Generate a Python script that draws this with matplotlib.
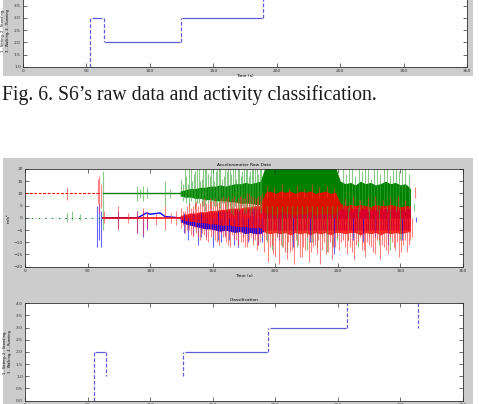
import matplotlib
matplotlib.use("Agg")
import matplotlib.pyplot as plt
from matplotlib.patches import Rectangle

W, H, DPI = 479, 404, 100

# ---------------- data ----------------
x_ticks = [0, 50, 100, 150, 200, 250, 300, 350]

# Fig. 6 (top, partly visible) activity classification
top_flat_t0 = [54.2, 64.6, 125.3]
top_flat_t1 = [62.5, 123.8, 188.4]
top_flat_lv = [3, 2, 3]
top_jump_t = [52.8, 63.5, 124.5, 189.0]
top_jump_from = [1, 3, 2, 3]
top_jump_to = [3, 2, 3, 4]
top_yticks = [1, 1.5, 2, 2.5, 3, 3.5, 4]

# Fig. 7 raw accelerometer data: quiet-part baselines (polylines)
red_base1_t = [0, 60];   red_base1_v = [10, 10]
red_base2_t = [62, 124]; red_base2_v = [0, 0]
green_base1_t = [0, 60]; green_base1_v = [0, 0]
green_base2_t = [62, 124]; green_base2_v = [10, 10]
blue_base1_t = [0, 60];  blue_base1_v = [0, 0]
blue_base2_t = [62, 90, 97, 100, 108, 112, 124]
blue_base2_v = [0, 0, 2, 1.5, 2, 0.5, 0]

# dense part: core envelopes
core_t = [124, 128, 132, 136, 140, 144, 148, 152, 156, 160, 164, 168, 172, 176,
          180, 184, 188, 192, 196, 200, 204, 208, 212, 216, 220, 224, 228, 232,
          236, 240, 244, 248, 252, 256, 260, 264, 268, 272, 276, 280, 284, 288,
          292, 296, 300, 304, 308]
green_core_lo = [9, 8.5, 8.5, 8, 8, 7.5, 7.5, 7, 7, 7, 6.5, 6.5, 6, 6, 6, 5.5, 5.5,
                 1.5, 2, 1, 2.5, 1.5, 2, 1, 2, 1.5, 2.5, 1, 2, 1.5, 2, 1.5,
                 3.5, 4, 3, 4.5, 3.5, 4, 3, 4, 3.5, 4.5, 3.5, 4, 3, 4, 4]
green_core_hi = [11, 11.5, 12, 12, 12.5, 12.5, 13, 13, 13.5, 13, 13.5, 14, 14,
                 14.5, 14, 14.5, 15, 21, 21, 21, 21, 21, 21, 21, 21, 21, 21, 21,
                 21, 21, 21, 21, 15, 14, 14.5, 13.5, 15, 14, 14.5, 13.5, 14, 15,
                 14, 14.5, 13.5, 14, 12]
red_core_lo = [-0.5, -1, -1.5, -1.5, -2, -2, -2.5, -2.5, -3, -3, -3, -3.5, -3.5,
               -3.5, -4, -4, -4, -6, -6.5, -6, -6.5, -6, -7, -6, -6.5, -6, -7,
               -6, -6.5, -6, -7, -6, -6, -6.5, -6, -6, -7, -6, -6.5, -6, -7, -6,
               -6.5, -6, -6.5, -6, -5.5]
red_core_hi = [1, 1.5, 2, 2, 2.5, 2.5, 3, 3, 3.5, 3.5, 4, 4, 4, 4.5, 4.5, 5, 5,
               10.5, 11, 10, 11, 10.5, 11, 10, 11, 10.5, 11, 10, 10.5, 11, 10,
               10.5, 6, 5, 5.5, 5, 5.5, 5, 4.5, 5.5, 5, 5, 5.5, 5, 4.5, 5, 5]
blue_core_lo = [-1.5, -2.5, -3, -3.5, -4, -4.5, -4.5, -5, -5.5, -5, -5.5, -6,
                -5.5, -6.5, -6, -6.5, -6.5, -5, -5, -5, -5, -5, -5, -5, -5, -5,
                -5, -5, -5, -5, -5, -5, -5, -5, -5, -5, -5, -5, -5, -5, -5, -5,
                -5, -5, -5, -5, -5]
blue_core_hi = [0.5, 1, 1.5, 1.5, 2, 2, 2.5, 2.5, 3, 3, 3, 3.5, 3.5, 3.5, 4, 4,
                4, 5, 5, 5, 5, 5, 5, 5, 5, 5, 5, 5, 5, 5, 5, 5, 4, 4, 4, 4, 4, 4,
                4, 4, 4, 4, 4, 4, 4, 4, 4]

# spikes (time, low, high)
green_spk_t = [33.3, 37.3, 44, 62.6, 89.2, 92, 94.6, 97.2, 111.9, 116,
               125, 127.5, 130, 132.5, 135, 137.5, 140, 142.5, 145, 147.5, 150,
               152.5, 155, 157.5, 160, 162.5, 165, 167.5, 170, 172.5, 175, 177.5,
               180, 182.5, 185, 187.5,
               126.2, 128.8, 131.2, 133.8, 136.2, 138.8, 141.2, 143.8, 146.2,
               148.8, 151.2, 153.8, 156.2, 158.8, 161.2, 163.8, 166.2, 168.8,
               171.2, 173.8, 176.2, 178.8, 181.2, 183.8, 186.2, 188.8,
               193, 197, 201, 205, 209, 213, 217, 221, 225, 229, 233, 237, 241,
               245, 249,
               254, 256.5, 259, 261.5, 264, 266.5, 269, 271.5, 274, 276.5, 279,
               281.5, 284, 286.5, 289, 291.5, 294, 296.5, 299, 301.5, 304, 306.5,
               258, 266, 275, 283, 292, 300, 311]
green_spk_lo = [-1.5, -1, -1, -5, 7, 8, 7, 8, 5, 8,
                9, 8, 9, 7, 8, 6, 8, 5, 7, 4, 6, 5, 3, 6, 4, 5, 2, 5, 3, 4, 2, 5,
                1, 4, 3, 2,
                7, 6, 5, 8, 4, 6, 5, 3, 6, 4, 5, 2, 4, 6, 3, 5, 1, 4, 3, 5, 2, 4,
                3, 1, 4, 2,
                -10, -13, -8, -12, -14, -9, -12, -7, -13, -10, -12, -8, -14, -11, -9,
                4, 5, 3, 4, 5, 3, 4, 5, 3, 4, 5, 3, 4, 5, 3, 4, 5, 3, 4, 5, 3, 4,
                -9, -12, -8, -11, -13, -9, 3]
green_spk_hi = [2, 2.7, 1.5, 19, 13, 12, 13, 12.5, 15, 12,
                16, 20, 14, 20, 18, 20, 15, 20, 20, 17, 20, 19, 20, 16, 20, 20,
                18, 20, 20, 17, 20, 20, 19, 20, 20, 20,
                14, 17, 20, 15, 19, 20, 16, 20, 18, 20, 15, 20, 20, 17, 19, 20,
                20, 16, 20, 19, 20, 17, 20, 20, 18, 20,
                5, 5, 5, 5, 5, 5, 5, 5, 5, 5, 5, 5, 5, 5, 5,
                20, 18, 20, 20, 17, 20, 19, 20, 20, 16, 20, 20, 18, 20, 20, 17,
                20, 20, 19, 20, 20, 18,
                4, 4, 4, 4, 4, 4, 6]

red_spk_t = [33.3, 58, 59.5, 61, 63, 74.6, 82, 89.2, 94.6, 97.2, 105, 111.9,
             117, 121,
             125, 128, 131, 134, 137, 140, 143, 146, 149, 152, 155, 158, 161,
             164, 167, 170, 173, 176, 179, 182, 185, 188,
             126.5, 129.5, 132.5, 135.5, 138.5, 141.5, 144.5, 147.5, 150.5,
             153.5, 156.5, 159.5, 162.5, 165.5, 168.5, 171.5, 174.5, 177.5,
             180.5, 183.5, 186.5, 189.5,
             191, 194, 197, 200, 203, 206, 209, 212, 215, 218, 221, 224, 227,
             230, 233, 236, 239, 242, 245, 248, 251, 254, 257, 260, 263, 266,
             269, 272, 275, 278, 281, 284, 287, 290, 293, 296, 299, 302, 305,
             308,
             192.5, 195.5, 198.5, 201.5, 204.5, 207.5, 210.5, 213.5, 216.5,
             219.5, 222.5, 225.5, 228.5, 231.5, 234.5, 237.5, 240.5, 243.5,
             246.5, 249.5, 252.5, 255.5, 258.5, 261.5, 264.5, 267.5, 270.5,
             273.5, 276.5, 279.5, 282.5, 285.5, 288.5, 291.5, 294.5, 297.5,
             300.5, 303.5, 306.5, 309.5,
             193, 199, 205, 211, 217, 223, 229, 235, 241, 247,
             256, 262, 268, 274, 280, 286, 292, 298, 304, 312]
red_spk_lo = [7.5, 6, 2, 4, -2, -5, -2, -6, -7, -4, -3, -5, -2, -3,
              -4, -6, -5, -8, -6, -9, -7, -10, -8, -9, -11, -8, -10, -12, -9,
              -11, -10, -12, -9, -11, -13, -10,
              -3, -5, -7, -4, -8, -6, -9, -5, -7, -10, -6, -8, -11, -7, -9, -6,
              -10, -12, -8, -9, -11, -7,
              -14, -18, -11, -16, -19, -12, -17, -14, -19, -11, -16, -13, -18,
              -12, -15, -19, -10, -14, -17, -12, -13, -9, -15, -12, -17, -10,
              -13, -16, -11, -14, -9, -17, -12, -15, -10, -13, -16, -11, -14,
              -9,
              -9, -12, -15, -8, -11, -14, -10, -13, -9, -16, -12, -8, -14, -11,
              -9, -13, -15, -10, -12, -8, -10, -12, -9, -14, -11, -8, -13, -10,
              -12, -15, -9, -11, -13, -8, -12, -10, -14, -9, -11, -8,
              8, 8, 8, 8, 8, 8, 8, 8, 8, 8,
              3, 3, 3, 3, 3, 3, 3, 3, 3, 8]
red_spk_hi = [12.5, 16, 17, 14, 3, 5, 2, 3, 4, 3, 2, 5, 2, 3,
              4, 3, 6, 5, 7, 6, 8, 6, 7, 8, 7, 9, 8, 7, 9, 8, 9, 8, 10, 9, 8, 9,
              3, 5, 4, 6, 5, 7, 6, 8, 7, 6, 8, 7, 9, 8, 7, 9, 8, 10, 9, 8, 9, 10,
              0, 0, 0, 0, 0, 0, 0, 0, 0, 0, 0, 0, 0, 0, 0, 0, 0, 0, 0, 0, 0, 0,
              0, 0, 0, 0, 0, 0, 0, 0, 0, 0, 0, 0, 0, 0, 0, 0, 0, 0,
              0, 0, 0, 0, 0, 0, 0, 0, 0, 0, 0, 0, 0, 0, 0, 0, 0, 0, 0, 0, 0, 0,
              0, 0, 0, 0, 0, 0, 0, 0, 0, 0, 0, 0, 0, 0, 0, 0, 0, 0,
              13, 12.5, 14, 12, 13.5, 12, 14, 12.5, 13, 12,
              8, 9, 7.5, 8.5, 9, 7.5, 8, 9, 7.5, 12.5]

blue_spk_t = [57.3, 59, 61, 74.6, 89.2, 94.6, 97.2,
              127, 130, 134, 138, 141, 145, 150, 154, 157, 160, 163, 167, 170,
              174, 178, 182, 186, 189,
              203, 214, 228, 247, 262, 270, 280, 290, 301, 312.5]
blue_spk_lo = [-12, -9, -12, -4, -6, -8, -5,
               -6, -9, -7, -11, -8, -8, -12, -9, -10, -7, -9, -11, -12, -8,
               -10, -9, -11, -10,
               -9, -12, -10, -15, -9, -10, -8, -11, -9, -1.5]
blue_spk_hi = [5, 6, 3, 3, 3, 3, 2,
               2, 0, 3, 0, 2, 0, 0, 3, 0, 2, 0, 0, 3, 0, 0, 4, 0, 0,
               0, 0, 0, 0, 0, 0, 0, 0, 0, 0.5]
raw_yticks = [-20, -15, -10, -5, 0, 5, 10, 15, 20]

# Fig. 7 classification steps
cls_flat_t0 = [56, 128, 195.5]
cls_flat_t1 = [64, 193.4, 256.3]
cls_flat_lv = [2, 2, 3]
cls_jump_t = [55, 64.5, 126.5, 194.5, 257.5, 314]
cls_jump_from = [0, 2, 1, 2, 3, 4]
cls_jump_to = [2, 1, 2, 3, 4, 3]
cls_yticks = [0, 0.5, 1, 1.5, 2, 2.5, 3, 3.5, 4]

caption = "Fig. 6. S6\u2019s raw data and activity classification."

# ---------------- drawing ----------------
GRAY = "#cccccc"
STEP = "#5c5cd4"
GREEN, RED, BLUE = "#008000", "#ff0000", "#0000ff"

fig = plt.figure(figsize=(W / DPI, H / DPI), dpi=DPI, facecolor="white")


def rect(x0, y0, x1, y1):
    return [x0 / W, 1 - y1 / H, (x1 - x0) / W, (y1 - y0) / H]


def frame(x0, y0, x1, y1):
    fig.patches.append(Rectangle((x0 / W, 1 - y1 / H), (x1 - x0) / W,
                                 (y1 - y0) / H, transform=fig.transFigure,
                                 facecolor=GRAY, edgecolor="none", zorder=-10))


def style(ax):
    ax.set_facecolor("white")
    for s in ax.spines.values():
        s.set_linewidth(0.6)
        s.set_color("#303030")
    ax.tick_params(direction="in", length=3, width=0.5, top=True, right=True,
                   labelsize=3.2, pad=1.5, colors="#303030")
    ax.set_xlim(0, 350)
    ax.set_xticks(x_ticks)


frame(3, -2, 473, 76)
frame(3, 158, 473, 406)

# --- top (Fig. 6) ---
ax0 = fig.add_axes(rect(23, -6.8, 467, 67))
style(ax0)
ax0.set_ylim(1, 4)
ax0.set_yticks(top_yticks)
ax0.hlines(top_flat_lv, top_flat_t0, top_flat_t1, color=STEP, lw=0.9)
ax0.vlines(top_jump_t, top_jump_from, top_jump_to, color=STEP, lw=0.9,
           linestyles=[(0, (3, 1.5))])
ax0.set_xlabel("Time (s)", fontsize=3.2, labelpad=1)
ax0.set_ylabel("1 - Sitting, 2 - Standing,\n3 - Walking, 4 - Running",
               fontsize=2.6, labelpad=3)

fig.text(2 / W, 1 - 100 / H, caption, family="Liberation Serif", fontsize=14.2,
         ha="left", va="baseline", color="#1a1a1a")

# --- Fig. 7 raw data ---
ax1 = fig.add_axes(rect(25, 169, 463, 266.7))
style(ax1)
ax1.set_ylim(-20, 20)
ax1.set_yticks(raw_yticks)
ax1.plot(blue_base1_t, blue_base1_v, color=BLUE, lw=0.6, alpha=0.5,
         ls=(0, (1, 5)))
ax1.plot(blue_base2_t, blue_base2_v, color=BLUE, lw=1.0)
ax1.fill_between(core_t, blue_core_lo, blue_core_hi, color=BLUE, lw=0)
ax1.vlines(blue_spk_t, blue_spk_lo, blue_spk_hi, color=BLUE, lw=0.8, alpha=0.6)

ax1.plot(green_base1_t, green_base1_v, color=GREEN, lw=0.8, ls=(0, (1, 5)))
ax1.plot(green_base2_t, green_base2_v, color=GREEN, lw=1.0)
ax1.fill_between(core_t, green_core_lo, green_core_hi, color=GREEN, lw=0)
ax1.vlines(green_spk_t, green_spk_lo, green_spk_hi, color="#3aa83a", lw=0.8,
           alpha=0.6)

ax1.plot(red_base1_t, red_base1_v, color=RED, lw=0.8, ls=(0, (2.5, 1.5)))
ax1.plot(red_base2_t, red_base2_v, color=RED, lw=1.1)
ax1.fill_between(core_t, red_core_lo, red_core_hi, color=RED, lw=0, alpha=0.85)
ax1.vlines(red_spk_t, red_spk_lo, red_spk_hi, color="#ff3030", lw=0.8,
           alpha=0.6)
ax1.set_title("Accelerometer Raw Data", fontsize=3.2, pad=2)
ax1.set_xlabel("Time (s)", fontsize=3.2, labelpad=1)
ax1.set_ylabel("m/s\u00b2", fontsize=3.2, labelpad=2)

# --- Fig. 7 classification ---
ax2 = fig.add_axes(rect(25, 303.3, 463, 400.6))
style(ax2)
ax2.set_ylim(0, 4)
ax2.set_yticks(cls_yticks)
ax2.hlines(cls_flat_lv, cls_flat_t0, cls_flat_t1, color=STEP, lw=0.9)
ax2.vlines(cls_jump_t, cls_jump_from, cls_jump_to, color=STEP, lw=0.9,
           linestyles=[(0, (3, 1.5))])
ax2.set_title("Classification", fontsize=3.2, pad=2)
ax2.set_ylabel("1 - Sitting, 2 - Standing,\n3 - Walking, 4 - Running",
               fontsize=2.6, labelpad=3)

fig.savefig("out.png", dpi=DPI, facecolor="white")
